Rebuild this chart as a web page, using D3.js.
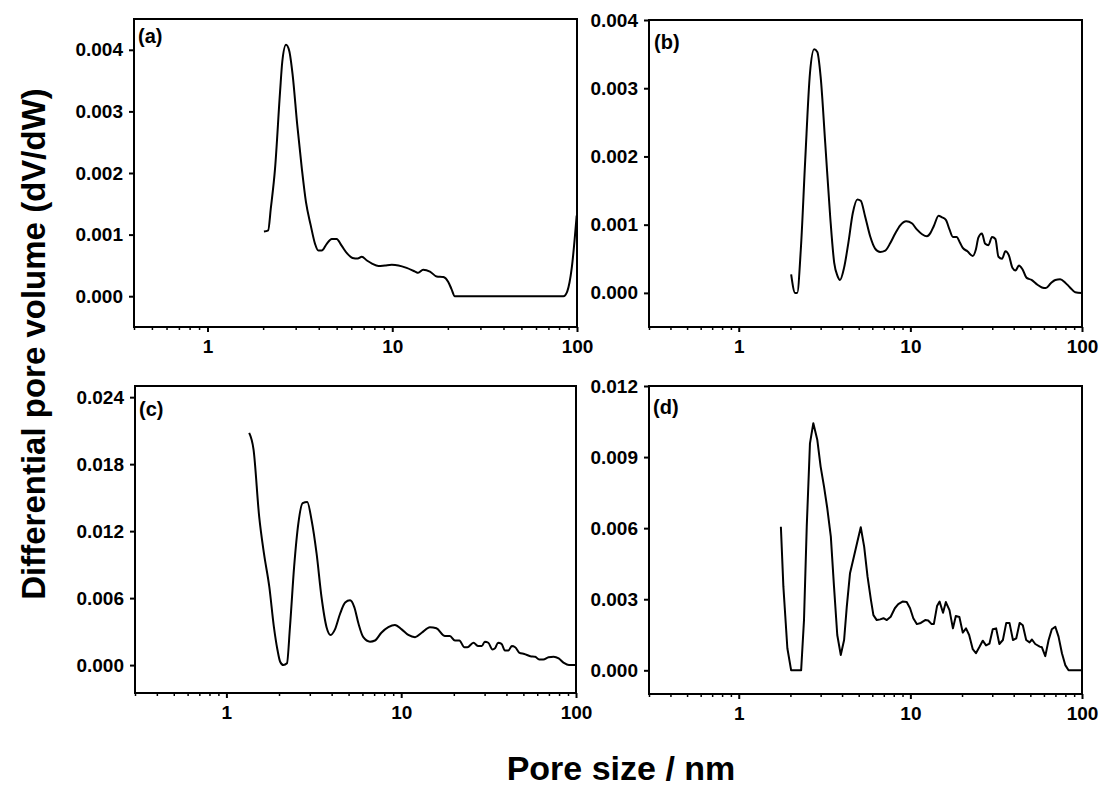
<!DOCTYPE html>
<html>
<head>
<meta charset="utf-8">
<script src="https://cdnjs.cloudflare.com/ajax/libs/d3/7.8.5/d3.min.js"></script>
<style>
  body { margin: 0; background: #fff; }
  svg { display: block; }
  text { font-family: "Liberation Sans", Arial, sans-serif; font-weight: bold; }
</style>
</head>
<body>
<svg id="chart" width="1120" height="786"></svg>
<script>
// pore size (nm) / dV/dW
const aX = [2.02, 2.13, 2.20, 2.32, 2.47, 2.54, 2.66, 2.77, 2.89, 3.06, 3.24, 3.41, 3.62, 3.82, 3.98, 4.15, 4.42, 4.70, 5.0, 5.32, 5.71, 6.1, 6.5, 6.84, 7.29, 7.77, 8.43, 9.14, 9.94, 10.8, 11.96, 13.3, 13.8, 14.7, 16.0, 17.4, 18.9, 20.1, 20.9, 21.8, 40, 84.4, 88.6, 93.6, 99.6]
const aY = [0.00105, 0.00107, 0.00142, 0.00207, 0.00332, 0.00381, 0.00408, 0.00398, 0.00359, 0.00278, 0.00207, 0.00153, 0.00115, 0.00085, 0.00074, 0.00074, 0.00085, 0.00093, 0.00093, 0.00082, 0.00069, 0.00062, 0.00061, 0.00064, 0.00058, 0.00053, 0.00049, 0.0005, 0.00051, 0.0005, 0.00046, 0.0004, 0.00038, 0.00043, 0.0004, 0.00032, 0.00031, 0.00023, 0.00012, 0, 0, 0, 0.00008, 0.00045, 0.00131]

const bX = [2.02, 2.13, 2.19, 2.30, 2.44, 2.60, 2.75, 2.87, 3.0, 3.19, 3.41, 3.6, 3.76, 3.89, 4.11, 4.35, 4.62, 4.91, 5.14, 5.45, 5.83, 6.23, 6.67, 7.14, 7.64, 8.16, 8.73, 9.46, 10.2, 10.9, 11.7, 12.5, 13.1, 13.7, 14.6, 15.2, 16.1, 16.9, 17.7, 18.6, 19.5, 20.2, 21.5, 23.1, 24.1, 24.9, 26.1, 27.3, 28.5, 29.9, 31.3, 32.6, 34.2, 35.8, 37.5, 39.3, 41.0, 42.9, 44.9, 47.6, 50.8, 55.0, 58.4, 61.6, 65.8, 69.9, 74.6, 79.9, 85.1, 91.3, 99.9]
const bY = [0.00027, 0, 0, 0.00064, 0.00195, 0.00322, 0.00357, 0.00353, 0.00317, 0.0022, 0.00112, 0.00044, 0.00025, 0.00019, 0.00037, 0.00073, 0.00117, 0.00137, 0.00135, 0.00112, 0.00083, 0.00065, 0.0006, 0.00062, 0.00073, 0.00087, 0.00099, 0.00105, 0.00102, 0.00093, 0.00086, 0.00083, 0.00088, 0.00098, 0.00113, 0.00111, 0.00107, 0.00093, 0.00082, 0.00082, 0.00073, 0.00066, 0.00061, 0.00054, 0.00064, 0.00081, 0.00087, 0.00072, 0.0007, 0.00082, 0.00079, 0.00053, 0.0005, 0.00061, 0.00055, 0.00037, 0.00033, 0.0004, 0.00035, 0.00022, 0.00019, 0.00012, 0.00008, 0.00007, 0.00014, 0.00019, 0.0002, 0.00015, 0.00008, 0.00001, 0]

const cX = [1.35, 1.43, 1.54, 1.64, 1.76, 1.87, 1.96, 2.03, 2.12, 2.22, 2.31, 2.44, 2.58, 2.73, 2.90, 3.07, 3.28, 3.50, 3.74, 3.95, 4.18, 4.47, 4.78, 5.1, 5.39, 5.7, 6.07, 6.63, 7.08, 7.7, 8.44, 9.21, 10.06, 10.98, 12.0, 13.1, 14.6, 15.9, 17.8, 19.0, 20.3, 21.5, 23.0, 23.9, 25.9, 27.6, 28.9, 30.1, 31.5, 33.3, 34.4, 35.8, 37.5, 39.2, 41.0, 42.9, 44.9, 47.5, 50.6, 54.8, 58.4, 61.6, 65, 69.6, 74.5, 79.6, 85.2, 91.1, 99.3]
const cY = [0.0208, 0.0193, 0.0133, 0.0100, 0.0070, 0.0034, 0.00135, 0.0003, 0, 0.00016, 0.0034, 0.0088, 0.0127, 0.0145, 0.0146, 0.0130, 0.0100, 0.0061, 0.0034, 0.0027, 0.0032, 0.0046, 0.0056, 0.0058, 0.0052, 0.0037, 0.0025, 0.0021, 0.0022, 0.0029, 0.0034, 0.0036, 0.0032, 0.0027, 0.0025, 0.0029, 0.0034, 0.0033, 0.0026, 0.0026, 0.0022, 0.0022, 0.0016, 0.0016, 0.0020, 0.0017, 0.0017, 0.0021, 0.0020, 0.0014, 0.0015, 0.0020, 0.0019, 0.0013, 0.0013, 0.0017, 0.0016, 0.0011, 0.0010, 0.0008, 0.00075, 0.0005, 0.0005, 0.0007, 0.00075, 0.0006, 0.0002, 0, 0]

const dX = [1.76, 1.82, 1.92, 2.02, 2.31, 2.40, 2.49, 2.60, 2.72, 2.87, 3.0, 3.14, 3.28, 3.44, 3.59, 3.75, 3.93, 4.11, 4.26, 4.45, 4.69, 4.91, 5.14, 5.38, 5.63, 5.89, 6.09, 6.37, 6.67, 6.97, 7.29, 7.68, 8.12, 8.5, 9.0, 9.52, 9.96, 10.4, 10.9, 11.5, 12.2, 12.7, 13.3, 13.7, 14.3, 14.8, 15.5, 16.1, 16.9, 17.7, 18.4, 19.3, 20.2, 21.1, 22.0, 23.1, 24.1, 25.2, 26.4, 27.6, 28.9, 30.2, 31.6, 33.0, 34.6, 36.2, 37.8, 39.6, 41.4, 43.3, 45.2, 47.3, 49.5, 51.1, 53.4, 56.7, 58.4, 61.1, 63.9, 66.7, 69.9, 73.0, 76.4, 79.9, 83.5, 99.9]
const dY = [0.00606, 0.00353, 0.00093, 0, 0, 0.00212, 0.00606, 0.00958, 0.01043, 0.00972, 0.0086, 0.00775, 0.00684, 0.00564, 0.00353, 0.00149, 0.00065, 0.00128, 0.00268, 0.0041, 0.0048, 0.00543, 0.00604, 0.00522, 0.00395, 0.00297, 0.00233, 0.00212, 0.00215, 0.0022, 0.00212, 0.00226, 0.00262, 0.00279, 0.0029, 0.00288, 0.00262, 0.0022, 0.00195, 0.002, 0.00212, 0.0021, 0.00195, 0.00195, 0.00271, 0.0029, 0.00243, 0.00288, 0.00254, 0.00177, 0.00229, 0.00225, 0.00159, 0.00177, 0.00149, 0.00089, 0.00072, 0.00097, 0.00125, 0.00105, 0.00113, 0.00173, 0.00177, 0.00111, 0.00128, 0.002, 0.002, 0.00128, 0.00135, 0.002, 0.0019, 0.00128, 0.00118, 0.0013, 0.00111, 0.001, 0.00097, 0.0006, 0.00128, 0.00173, 0.00184, 0.00142, 0.00072, 0.00022, 0, 0]

const aTicks = [0, 0.001, 0.002, 0.003, 0.004]
const bTicks = [0, 0.001, 0.002, 0.003, 0.004]
const cTicks = [0, 0.006, 0.012, 0.018, 0.024]
const dTicks = [0, 0.003, 0.006, 0.009, 0.012]
const xMajor = [1, 10, 100]

const svg = d3.select('#chart')

let panels = [
  {name: '(a)', xs: aX, ys: aY, ticks: aTicks, xmin: 0.4, ydom: [-0.0005, 0.0045], box: [134, 19, 577, 327], lab: [138, 43], curve: d3.curveMonotoneX},
  {name: '(b)', xs: bX, ys: bY, ticks: bTicks, xmin: 0.3, ydom: [-0.0005, 0.004], box: [649, 20, 1082, 327], lab: [654, 49], curve: d3.curveMonotoneX},
  {name: '(c)', xs: cX, ys: cY, ticks: cTicks, xmin: 0.3, ydom: [-0.0025, 0.025], box: [135, 386, 576, 693], lab: [139, 416], curve: d3.curveMonotoneX},
  {name: '(d)', xs: dX, ys: dY, ticks: dTicks, xmin: 0.3, ydom: [-0.001, 0.012], box: [649, 386, 1082, 694], lab: [653, 414], curve: d3.curveLinear}
]

panels.forEach((p, i) => {
  let [x0, y0, x1, y1] = p.box
  let x = d3.scaleLog().domain([p.xmin, 100]).range([x0, x1])
  let y = d3.scaleLinear().domain(p.ydom).range([y1, y0])
  let g = svg.append('g')

  g.append('clipPath').attr('id', 'clip' + i)
    .append('rect').attr('x', x0).attr('y', y0).attr('width', x1 - x0).attr('height', y1 - y0)

  let pts = p.xs.map((v, k) => [v, p.ys[k]])
  g.append('path')
    .datum(pts)
    .attr('clip-path', `url(#clip${i})`)
    .attr('fill', 'none')
    .attr('stroke', '#000')
    .attr('stroke-width', 2)
    .attr('stroke-linejoin', 'round')
    .attr('d', d3.line().x(d => x(d[0])).y(d => y(d[1])).curve(p.curve))

  // minor ticks on the log axis
  let minor = []
  for (let dec = 0.1; dec < 100; dec *= 10) {
    for (let m = 2; m <= 9; m++) {
      let v = +(m * dec).toFixed(3)
      if (v >= p.xmin - 1e-9 && v < 100) minor.push(v)
    }
  }
  let xMinorAxis = g.append('g')
    .attr('transform', `translate(0,${y1})`)
    .call(d3.axisBottom(x).tickValues(minor).tickSize(3).tickFormat(''))
  xMinorAxis.select('.domain').remove()
  xMinorAxis.selectAll('line').attr('stroke-width', 1.5)

  let xAxis = g.append('g')
    .attr('transform', `translate(0,${y1})`)
    .call(d3.axisBottom(x).tickValues(xMajor).tickSize(5).tickPadding(8).tickFormat(d3.format('d')))
  xAxis.select('.domain').remove()
  xAxis.selectAll('line').attr('stroke-width', 2)
  xAxis.selectAll('text').attr('font-size', 19).attr('fill', '#000')

  let yAxis = g.append('g')
    .attr('transform', `translate(${x0},0)`)
    .call(d3.axisLeft(y).tickValues(p.ticks).tickSize(5).tickPadding(6).tickFormat(d3.format('.3f')))
  yAxis.select('.domain').remove()
  yAxis.selectAll('line').attr('stroke-width', 2)
  yAxis.selectAll('text').attr('font-size', 19).attr('fill', '#000')

  g.append('rect')
    .attr('x', x0).attr('y', y0)
    .attr('width', x1 - x0).attr('height', y1 - y0)
    .attr('fill', 'none').attr('stroke', '#000').attr('stroke-width', 2)

  g.append('text')
    .attr('x', p.lab[0]).attr('y', p.lab[1])
    .attr('font-size', 20)
    .text(p.name)
})

svg.append('text')
  .attr('transform', 'translate(45,344) rotate(-90)')
  .attr('text-anchor', 'middle')
  .attr('font-size', 33)
  .text('Differential pore volume (dV/dW)')

svg.append('text')
  .attr('x', 621).attr('y', 780)
  .attr('text-anchor', 'middle')
  .attr('font-size', 34)
  .text('Pore size / nm')
</script>
</body>
</html>
